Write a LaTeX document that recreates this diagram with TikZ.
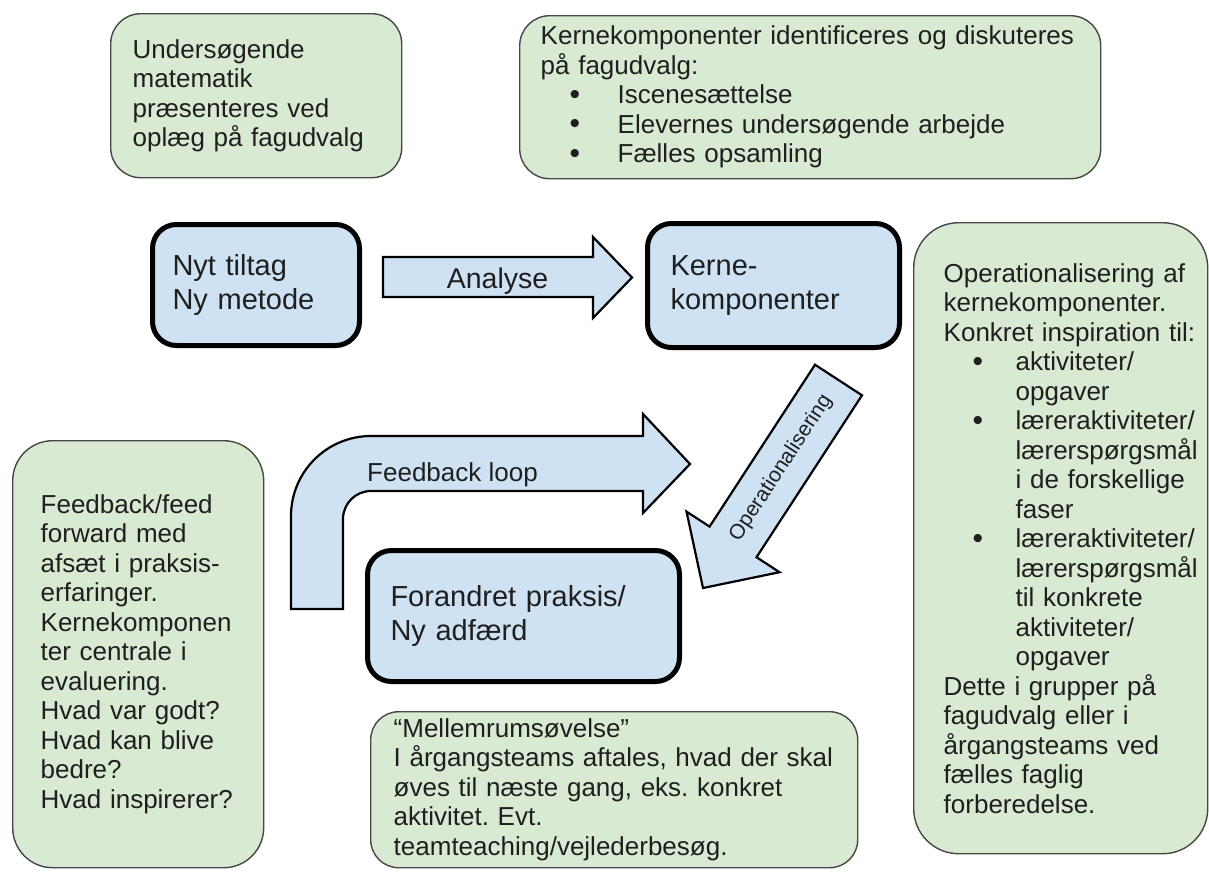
\documentclass[tikz,border=0pt]{standalone}
\usepackage{fontspec}
\setmainfont{Liberation Sans}
\frenchspacing
\definecolor{gfill}{HTML}{D9EAD3}
\definecolor{bfill}{HTML}{CFE2F3}
\definecolor{tcol}{HTML}{1F1F1F}
\newcommand\nb[1]{\mbox{#1}}
\newcommand\bitem[3]{\mbox{\hspace*{#1}\makebox[#2][l]{\raisebox{-0.5pt}{\fontsize{30}{30}\selectfont •}}#3}}
\newcommand\bcont[2]{\mbox{\hspace*{#1}#2}}
\begin{document}
\begin{tikzpicture}[x=1pt,y=-1pt,
  greenbox/.style={draw=black!72, line width=1.4pt, fill=gfill, rounded corners=30pt,
    align=left, inner ysep=0pt, anchor=north west, text=tcol,
    font=\fontsize{26}{29.5}\selectfont},
  bluebox/.style={draw=black, line width=5pt, fill=bfill, rounded corners=24pt,
    align=left, inner ysep=0pt, anchor=north west, text=tcol,
    font=\fontsize{29}{34}\selectfont},
  blockarrow/.style={draw=black, line width=2.2pt, fill=bfill, line join=miter},
  arrowlabel/.style={text=tcol, inner sep=0pt}]
\path[use as bounding box, fill=white] (0,0) rectangle (1209,871);

% green boxes
\node[greenbox, minimum height=164pt, inner xsep=22pt, text width=247pt] (intro) at (110,13)
  {\nb{Undersøgende}\\ \nb{matematik}\\ \nb{præsenteres ved}\\ \nb{oplæg på fagudvalg}};
\node[greenbox, minimum height=163pt, inner xsep=21pt, text width=539pt] (kerneid) at (519,15)
  {\nb{Kernekomponenter identificeres og diskuteres}\\
   \nb{på fagudvalg:}\\
   \bitem{29pt}{48pt}{Iscenesættelse}\\
   \bitem{29pt}{48pt}{Elevernes undersøgende arbejde}\\
   \bitem{29pt}{48pt}{Fælles opsamling}};
\node[greenbox, rounded corners=45pt, minimum height=631pt, inner xsep=30pt, text width=234pt] (oper) at (913,222)
  {\nb{Operationalisering af}\\
   \nb{kernekomponenter.}\\
   \nb{Konkret inspiration til:}\\
   \bitem{29pt}{43pt}{aktiviteter/}\\
   \bcont{72pt}{opgaver}\\
   \bitem{29pt}{43pt}{læreraktiviteter/}\\
   \bcont{72pt}{lærerspørgsmål}\\
   \bcont{72pt}{i de forskellige}\\
   \bcont{72pt}{faser}\\
   \bitem{29pt}{43pt}{læreraktiviteter/}\\
   \bcont{72pt}{lærerspørgsmål}\\
   \bcont{72pt}{til konkrete}\\
   \bcont{72pt}{aktiviteter/}\\
   \bcont{72pt}{opgaver}\\
   \nb{Dette i grupper på}\\
   \nb{fagudvalg eller i}\\
   \nb{årgangsteams ved}\\
   \nb{fælles faglig}\\
   \nb{forberedelse.}};
\node[greenbox, rounded corners=40pt, minimum height=427pt, inner xsep=28pt, text width=195pt] (feedb) at (12,440)
  {\nb{Feedback/feed}\\ \nb{forward med}\\ \nb{afsæt i praksis-}\\ \nb{erfaringer.}\\
   \nb{Kernekomponen}\\ \nb{ter centrale i}\\ \nb{evaluering.}\\ \nb{Hvad var godt?}\\
   \nb{Hvad kan blive}\\ \nb{bedre?}\\ \nb{Hvad inspirerer?}};
\node[greenbox, rounded corners=28pt, minimum height=156pt, inner xsep=23pt, text width=441pt] (mellem) at (370,711)
  {\nb{“Mellemrumsøvelse”}\\
   \nb{I årgangsteams aftales, hvad der skal}\\
   \nb{øves til næste gang, eks. konkret}\\
   \nb{aktivitet. Evt.}\\
   \nb{teamteaching/vejlederbesøg.}};

% blue boxes
\node[bluebox, minimum height=121pt, inner xsep=20pt, text width=167pt] (nyt) at (150,222)
  {Nyt tiltag\\Ny metode};
\node[bluebox, minimum height=124pt, inner xsep=23pt, text width=206pt] (kerne) at (645,221)
  {Kerne-\\komponenter};
\node[bluebox, minimum height=131pt, inner xsep=23pt, text width=266pt] (forandret) at (365,548)
  {Forandret praksis/\\Ny adfærd};

% Analyse arrow
\coordinate (anS) at (383,277);
\coordinate (anT) at (632,277.5);
\draw[blockarrow] (anS) ++(0,-20) -- (593,257) -- (593,237) -- (anT) -- (593,318) -- (593,297) -- (383,297) -- cycle;
\node[arrowlabel, anchor=base, font=\fontsize{28.5}{30}\selectfont] (analyse) at (497.5,288) {Analyse};

% Operationalisering arrow
\coordinate (opS) at (838.5,380);
\coordinate (opT) at (703,588);
\draw[blockarrow] (815.0,364.7) -- (709.6,526.6) -- (686.5,511.6) -- (opT) -- (779.5,572.2)
  -- (756.5,557.2) -- (862.0,395.3) -- cycle;
\node[arrowlabel, rotate=56.9, font=\fontsize{21}{22}\selectfont] (oplabel) at (781,468) {Operationalisering};

% Feedback loop arrow
\coordinate (fbS) at (317,609);
\coordinate (fbT) at (690,464);
\draw[blockarrow] (291,609) -- (291,516) .. controls (291,471.8) and (326.8,436) .. (371,436)
  -- (643,436) -- (643,414) -- (fbT) -- (643,513) -- (643,491) -- (371,491)
  .. controls (355.5,491) and (343,503.5) .. (343,519) -- (343,609) -- cycle;
\node[arrowlabel, anchor=base west, font=\fontsize{26}{28}\selectfont] (fblabel) at (367,481) {Feedback loop};
\end{tikzpicture}
\end{document}
